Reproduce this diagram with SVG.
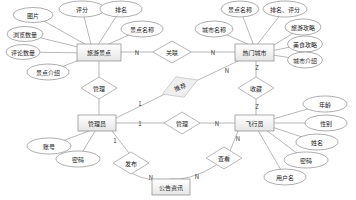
<svg xmlns="http://www.w3.org/2000/svg" width="356" height="200" viewBox="0 0 356 200">
<defs>
<linearGradient id="rg" x1="0" y1="0" x2="0" y2="1"><stop offset="0" stop-color="#ffffff"/><stop offset="1" stop-color="#e6e6e6"/></linearGradient>
<style>
.e{fill:#fff;stroke:#777;stroke-width:0.6}
.r{fill:url(#rg);stroke:#888;stroke-width:0.7}
.d{fill:#fff;stroke:#888;stroke-width:0.6}
.g{fill:#eeeeee;stroke:#bbb;stroke-width:0.6}
.l{stroke:#888;stroke-width:0.6;fill:none}
text{font-family:"Noto Sans CJK SC","Liberation Sans",sans-serif;font-size:6px;fill:#222;text-anchor:middle;dominant-baseline:central}
.c{font-size:6px;fill:#333}
</style>
</defs>
<rect width="356" height="200" fill="#fff"/>
<g id="connectors">
<line class="l" x1="33" y1="15" x2="92" y2="48"/>
<line class="l" x1="82" y1="9" x2="92" y2="48"/>
<line class="l" x1="121" y1="9" x2="96" y2="48"/>
<line class="l" x1="142" y1="29" x2="100" y2="48"/>
<line class="l" x1="25" y1="34" x2="90" y2="50"/>
<line class="l" x1="23" y1="52" x2="90" y2="53"/>
<line class="l" x1="48" y1="72" x2="90" y2="56"/>
<line class="l" x1="121" y1="52" x2="153" y2="52"/>
<line class="l" x1="191" y1="52" x2="235" y2="52"/>
<line class="l" x1="99" y1="61" x2="99" y2="77"/>
<line class="l" x1="99" y1="99" x2="99" y2="115"/>
<line class="l" x1="116" y1="118" x2="165" y2="94"/>
<line class="l" x1="196" y1="81" x2="238" y2="61"/>
<line class="l" x1="116" y1="123" x2="164" y2="123"/>
<line class="l" x1="200" y1="123" x2="235" y2="123"/>
<line class="l" x1="256" y1="61" x2="256" y2="77"/>
<line class="l" x1="256" y1="99" x2="256" y2="115"/>
<line class="l" x1="240" y1="9" x2="254" y2="46"/>
<line class="l" x1="285" y1="9" x2="256" y2="46"/>
<line class="l" x1="214" y1="29" x2="252" y2="46"/>
<line class="l" x1="303" y1="27" x2="266" y2="50"/>
<line class="l" x1="305" y1="44" x2="266" y2="52"/>
<line class="l" x1="305" y1="60" x2="266" y2="54"/>
<line class="l" x1="97" y1="128" x2="49" y2="146"/>
<line class="l" x1="97" y1="128" x2="78" y2="159"/>
<line class="l" x1="266" y1="121" x2="325" y2="104"/>
<line class="l" x1="266" y1="123" x2="326" y2="123"/>
<line class="l" x1="266" y1="125" x2="317" y2="142"/>
<line class="l" x1="262" y1="127" x2="306" y2="160"/>
<line class="l" x1="256" y1="127" x2="285" y2="177"/>
<line class="l" x1="112" y1="131" x2="129" y2="153"/>
<line class="l" x1="238" y1="131" x2="230" y2="151"/>
<path class="l" d="M131 173 Q140 178 152 180 Q162 182 171 179"/>
<path class="l" d="M218 164 Q205 173 190 177 Q180 180 171 179"/>
<text class="c" x="137" y="52">N</text>
<text class="c" x="213" y="52">N</text>
<text class="c" x="140" y="103">1</text>
<text class="c" x="227" y="70">N</text>
<text class="c" x="140" y="123">1</text>
<text class="c" x="217" y="123">N</text>
<text class="c" x="257" y="67">Z</text>
<text class="c" x="257" y="106">Z</text>
<text class="c" x="115" y="140">1</text>
<text class="c" x="151" y="177">N</text>
<text class="c" x="197" y="176">N</text>
<text class="c" x="238" y="138">N</text>
</g>
<g id="spot"><rect class="r" x="77" y="44" width="44" height="17"/><text x="99" y="52.5">旅游景点</text></g>
<g id="city"><rect class="r" x="235" y="44" width="39" height="17"/><text x="254.5" y="52.5">热门城市</text></g>
<g id="admin"><rect class="r" x="78" y="115" width="38" height="16"/><text x="97" y="123">管理员</text></g>
<g id="user"><rect class="r" x="235" y="115" width="39" height="16"/><text x="254.5" y="123">飞行员</text></g>
<g id="notice"><rect class="r" x="152" y="179" width="38" height="16"/><text x="171" y="187">公告资讯</text></g>
<g id="rel-link"><polygon class="d" points="153,52 172,41 191,52 172,63"/><text x="172" y="52">关联</text></g>
<g id="rel-manage1"><polygon class="d" points="81,88 99,77 117,88 99,99"/><text x="99" y="88">管理</text></g>
<g id="rel-recommend"><g transform="rotate(-22 180 87)"><polygon class="g" points="161,87 180,76 199,87 180,98"/><text x="180" y="87">推荐</text></g></g>
<g id="rel-manage2"><polygon class="d" points="164,123 182,112 200,123 182,134"/><text x="182" y="123">管理</text></g>
<g id="rel-collect"><polygon class="d" points="238,88 256,77 274,88 256,99"/><text x="256" y="88">收藏</text></g>
<g id="rel-publish"><polygon class="d" points="113,163 131,152 149,163 131,174"/><text x="131" y="163">发布</text></g>
<g id="rel-view"><polygon class="d" points="206,158 224,147 242,158 224,169"/><text x="224" y="158">查看</text></g>
<g id="a1"><ellipse class="e" cx="33" cy="15" rx="20" ry="7.5"/><text x="33" y="15">图片</text></g>
<g id="a2"><ellipse class="e" cx="82" cy="9" rx="23" ry="8"/><text x="82" y="9">评分</text></g>
<g id="a3"><ellipse class="e" cx="121" cy="9" rx="21" ry="8"/><text x="121" y="9">排名</text></g>
<g id="a4"><ellipse class="e" cx="142" cy="29" rx="21" ry="8"/><text x="142" y="29">景点名称</text></g>
<g id="a5"><ellipse class="e" cx="25" cy="34" rx="18" ry="7.5"/><text x="25" y="34">浏览数量</text></g>
<g id="a6"><ellipse class="e" cx="23" cy="52" rx="17" ry="7.5"/><text x="23" y="52">评论数量</text></g>
<g id="a7"><ellipse class="e" cx="48" cy="72" rx="21" ry="8"/><text x="48" y="72">景点介绍</text></g>
<g id="b1"><ellipse class="e" cx="240" cy="9" rx="19" ry="8"/><text x="240" y="9">景点名称</text></g>
<g id="b2"><ellipse class="e" cx="285" cy="9" rx="22" ry="8"/><text x="285" y="9">排名、评分</text></g>
<g id="b3"><ellipse class="e" cx="214" cy="29" rx="19" ry="8"/><text x="214" y="29">城市名称</text></g>
<g id="b4"><ellipse class="e" cx="303" cy="27" rx="18" ry="8"/><text x="303" y="27">旅游攻略</text></g>
<g id="b5"><ellipse class="e" cx="305" cy="44" rx="17.5" ry="8"/><text x="305" y="44">美食攻略</text></g>
<g id="b6"><ellipse class="e" cx="305" cy="60" rx="17.5" ry="8"/><text x="305" y="60">城市介绍</text></g>
<g id="c1"><ellipse class="e" cx="49" cy="146" rx="22" ry="8"/><text x="49" y="146">账号</text></g>
<g id="c2"><ellipse class="e" cx="78" cy="159" rx="22" ry="8"/><text x="78" y="159">密码</text></g>
<g id="u1"><ellipse class="e" cx="325" cy="104" rx="22" ry="8"/><text x="325" y="104">年龄</text></g>
<g id="u2"><ellipse class="e" cx="326" cy="123" rx="21" ry="8"/><text x="326" y="123">性别</text></g>
<g id="u3"><ellipse class="e" cx="317" cy="142" rx="21" ry="8"/><text x="317" y="142">姓名</text></g>
<g id="u4"><ellipse class="e" cx="306" cy="160" rx="22" ry="8"/><text x="306" y="160">密码</text></g>
<g id="u5"><ellipse class="e" cx="285" cy="177" rx="21" ry="8"/><text x="285" y="177">用户名</text></g>
</svg>
